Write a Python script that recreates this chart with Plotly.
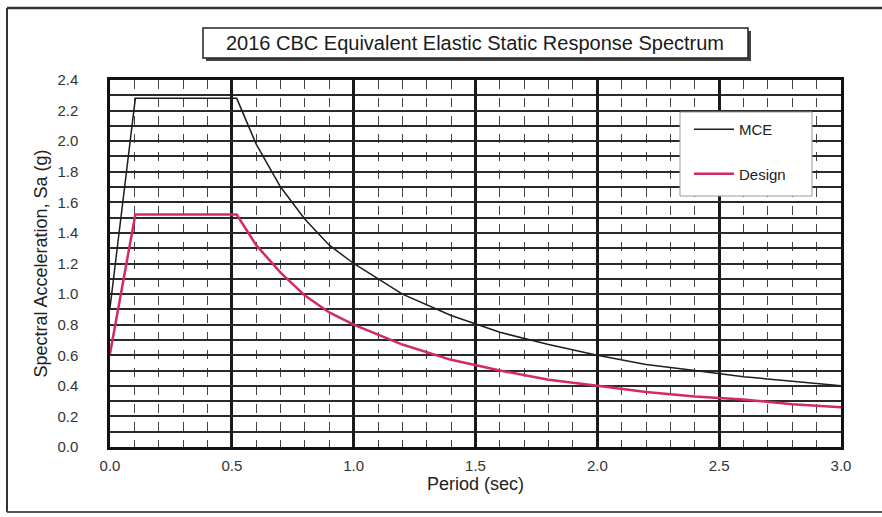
import plotly.graph_objects as go

# ---- data ----
period = [0.0, 0.104, 0.52, 0.6, 0.7, 0.8, 0.9, 1.0, 1.2, 1.4, 1.6, 1.8, 2.0, 2.2, 2.4, 2.6, 2.8, 3.0]
mce = [0.91, 2.28, 2.28, 1.98, 1.70, 1.49, 1.32, 1.20, 1.00, 0.86, 0.75, 0.67, 0.60, 0.54, 0.50, 0.46, 0.43, 0.40]
design = [0.61, 1.52, 1.52, 1.32, 1.14, 0.99, 0.88, 0.80, 0.67, 0.57, 0.50, 0.44, 0.40, 0.36, 0.33, 0.31, 0.28, 0.26]

title_text = "2016 CBC Equivalent Elastic Static Response Spectrum"
x_title = "Period (sec)"
y_title = "Spectral Acceleration, Sa (g)"

W, H = 882, 517
L, R, T, B = 110, 41, 80, 70
PW, PH = W - L - R, H - T - B


def px(x):
    return (x - L) / PW


def py(y):
    return (H - B - y) / PH


FONT = "Liberation Sans, Arial, sans-serif"

fig = go.Figure()
fig.add_trace(go.Scatter(x=period, y=mce, mode="lines", name="MCE",
                         line=dict(color="#1e1e1e", width=1.5), legendgroup="a"))
fig.add_trace(go.Scatter(x=period, y=design, mode="lines", name="Design",
                         line=dict(color="#d42a5c", width=2.5), legendgroup="b"))

shapes = [
    # scanned page frame
    dict(type="line", xref="paper", yref="paper", x0=px(7), x1=px(7), y0=py(8), y1=py(512),
         line=dict(color="#333", width=2)),
    dict(type="line", xref="paper", yref="paper", x0=px(7), x1=px(882), y0=py(8), y1=py(8),
         line=dict(color="#333", width=2.5)),
    dict(type="line", xref="paper", yref="paper", x0=px(7), x1=px(882), y0=py(512), y1=py(512),
         line=dict(color="#555", width=2)),
    # title box shadow + box
    dict(type="rect", xref="paper", yref="paper", x0=px(206), x1=px(751), y0=py(61), y1=py(31),
         fillcolor="#444", line=dict(width=0), layer="above"),
    dict(type="rect", xref="paper", yref="paper", x0=px(203), x1=px(748), y0=py(58), y1=py(28),
         fillcolor="white", line=dict(color="#222", width=1.5), layer="above"),
    # legend box
    dict(type="rect", xref="paper", yref="paper", x0=px(680), x1=px(812), y0=py(196), y1=py(112),
         fillcolor="white", line=dict(color="#999", width=1), layer="above"),
]

fig.add_annotation(text=title_text, xref="paper", yref="paper", x=px(475), y=py(43),
                   showarrow=False, xanchor="center", yanchor="middle",
                   font=dict(family=FONT, size=20, color="#1a1a1a"))

fig.update_layout(
    width=W, height=H,
    margin=dict(l=L, r=R, t=T, b=B),
    paper_bgcolor="white", plot_bgcolor="white",
    font=dict(family=FONT, color="#2a2a2a"),
    shapes=shapes,
    showlegend=True,
    legend=dict(x=px(689), y=py(113), xanchor="left", yanchor="top",
                bgcolor="rgba(0,0,0,0)", borderwidth=0,
                font=dict(family=FONT, size=15, color="#222"),
                itemwidth=40,
                tracegroupgap=22, traceorder="grouped"),
    xaxis=dict(range=[0, 3.0], tickmode="linear", tick0=0, dtick=0.5, tickformat=".1f",
               showgrid=True, gridcolor="#1a1a1a", gridwidth=2.5,
               minor=dict(dtick=0.1, showgrid=True, gridcolor="#444", gridwidth=1, griddash="dash"),
               showline=True, linecolor="#111", linewidth=2.5, mirror=True,
               zeroline=False, ticks="", ticklabelstandoff=3,
               tickfont=dict(family=FONT, size=15, color="#333"),
               title=dict(text=x_title, font=dict(family=FONT, size=18, color="#222"), standoff=4)),
    yaxis=dict(range=[0, 2.4], tickmode="linear", tick0=0, dtick=0.2, tickformat=".1f",
               showgrid=True, gridcolor="#2a2a2a", gridwidth=1.8,
               minor=dict(dtick=0.1, showgrid=True, gridcolor="#2a2a2a", gridwidth=1.8),
               showline=True, linecolor="#111", linewidth=2.5, mirror=True,
               zeroline=False, ticks="", ticklabelstandoff=26,
               tickfont=dict(family=FONT, size=15, color="#333"),
               title=dict(text=y_title, font=dict(family=FONT, size=18, color="#222"), standoff=6)),
)

fig.write_html("out.html")
